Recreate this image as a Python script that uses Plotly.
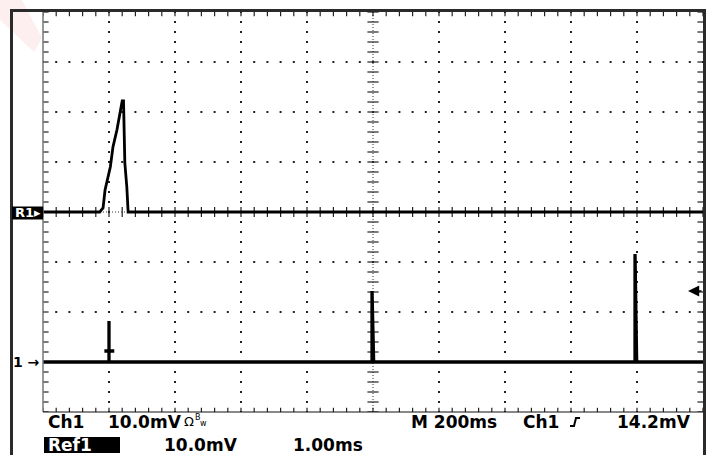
import plotly.graph_objects as go

# ---------------- data ----------------
# Channel 1: 200 ms/div, 10 mV/div, ground marker at -3 div
ch1_t_ms = [0, 195, 200, 200, 200, 186, 216, 200, 200, 205,
            992, 997, 997, 1002, 1789, 1794, 1794, 1799, 2000]
ch1_mv = [0, 0, 0, 8.2, 2.2, 2.2, 2.2, 2.2, 0, 0,
          0, 0, 14.2, 0, 0, 0, 21.6, 0, 0]
ch1_ms_per_div = 200.0
ch1_mv_per_div = 10.0
ch1_offset_div = -3.0
trigger_mv = 14.2

# Reference waveform R1: 1.00 ms/div, 10 mV/div, offset 0 div
r1_t_ms = [0, 0.86, 0.91, 0.94, 1.02, 1.06, 1.12, 1.17, 1.20, 1.22,
           1.23, 1.24, 1.27, 1.29, 10.0]
r1_mv = [0, 0, 0.8, 4.4, 9.0, 13.0, 16.4, 19.8, 22.2, 22.2,
         15.8, 9.8, 5.0, 0, 0]
r1_ms_per_div = 1.0
r1_mv_per_div = 10.0
r1_offset_div = 0.0

status_row1 = ["Ch1", "10.0mV", "M 200ms", "Ch1", "14.2mV"]
status_row2 = ["Ref1", "10.0mV", "1.00ms"]

# --------------- figure ---------------
W, H = 709, 455
L, R, T, B = 43, 6, 12, 43
PW, PH = W - L - R, H - T - B


def px(x):
    return (x - L) / PW


def py(y):
    return (H - B - y) / PH


fig = go.Figure()

# dotted graticule
gx, gy = [], []
for k in [1, 2, 3, 4, 6, 7, 8, 9]:
    for j in range(41):
        gx.append(k); gy.append(-4 + 0.2 * j)
for m in [-3, -2, -1, 1, 2, 3]:
    for j in range(51):
        gx.append(0.2 * j); gy.append(m)
fig.add_trace(go.Scatter(x=gx, y=gy, mode="markers",
                         marker=dict(symbol="square", size=2, color="#222", line=dict(width=0)),
                         hoverinfo="skip", showlegend=False))

# center cross: fine dotted lines
fig.add_trace(go.Scatter(x=[5, 5], y=[-4, 4], mode="lines",
                         line=dict(color="#333", width=1, dash="1px,2px"),
                         hoverinfo="skip", showlegend=False))
fig.add_trace(go.Scatter(x=[0, 10], y=[0, 0], mode="lines",
                         line=dict(color="#333", width=1, dash="1px,2px"),
                         hoverinfo="skip", showlegend=False))
# center ticks
fig.add_trace(go.Scatter(x=[5] * 41, y=[-4 + 0.2 * j for j in range(41)], mode="markers",
                         marker=dict(symbol="line-ew", size=8, line=dict(color="#222", width=1.2)),
                         hoverinfo="skip", showlegend=False))
fig.add_trace(go.Scatter(x=[0.2 * j for j in range(51)], y=[0] * 51, mode="markers",
                         marker=dict(symbol="line-ns", size=7, line=dict(color="#222", width=1.2)),
                         hoverinfo="skip", showlegend=False))
# edge ticks
ey = [-4 + 0.2 * j for j in range(41)]
ex = [0.2 * j for j in range(51)]
fig.add_trace(go.Scatter(x=[0] * 41 + [10] * 41, y=ey + ey, mode="markers",
                         marker=dict(symbol="line-ew", size=8, line=dict(color="#222", width=1.2)),
                         hoverinfo="skip", showlegend=False))
fig.add_trace(go.Scatter(x=ex + ex, y=[4] * 51 + [-4] * 51, mode="markers",
                         marker=dict(symbol="line-ns", size=6, line=dict(color="#222", width=1.2)),
                         hoverinfo="skip", showlegend=False))

# waveforms
fig.add_trace(go.Scatter(x=[t / r1_ms_per_div for t in r1_t_ms],
                         y=[v / r1_mv_per_div + r1_offset_div for v in r1_mv],
                         mode="lines", line=dict(color="#000", width=2.8),
                         name="R1", showlegend=False))
fig.add_trace(go.Scatter(x=[t / ch1_ms_per_div for t in ch1_t_ms],
                         y=[v / ch1_mv_per_div + ch1_offset_div for v in ch1_mv],
                         mode="lines", line=dict(color="#000", width=3.3),
                         name="Ch1", showlegend=False))

shapes = []
# faint pink watermark in corner
shapes.append(dict(type="path", xref="paper", yref="paper",
                   path=f"M {px(0)} {py(0)} L {px(22)} {py(0)} L {px(42)} {py(38)} L {px(34)} {py(52)} L {px(0)} {py(20)} Z",
                   fillcolor="rgba(235,120,120,0.12)", line=dict(width=0), layer="below"))
# outer frame
shapes.append(dict(type="line", xref="paper", yref="paper", x0=px(11.5), x1=px(11.5), y0=py(9.5), y1=py(460),
                   line=dict(color="#2a2a2a", width=3)))
shapes.append(dict(type="line", xref="paper", yref="paper", x0=px(10), x1=px(706), y0=py(10.5), y1=py(10.5),
                   line=dict(color="#2a2a2a", width=3)))
shapes.append(dict(type="line", xref="paper", yref="paper", x0=px(704.5), x1=px(704.5), y0=py(9.5), y1=py(460),
                   line=dict(color="#2a2a2a", width=3)))
# inner graticule edges
shapes.append(dict(type="line", xref="paper", yref="paper", x0=0, x1=0, y0=0, y1=1,
                   line=dict(color="#777", width=1.5)))
shapes.append(dict(type="line", xref="paper", yref="paper", x0=0, x1=1, y0=0, y1=0,
                   line=dict(color="#111", width=1)))
# R1 marker box
shapes.append(dict(type="rect", xref="paper", yref="paper", x0=px(12), x1=px(43), y0=py(219.5), y1=py(206.5),
                   fillcolor="#000", line=dict(width=0)))
# Ref1 box
shapes.append(dict(type="rect", xref="paper", yref="paper", x0=px(44), x1=px(120), y0=py(453), y1=py(437),
                   fillcolor="#000", line=dict(width=0)))
# trigger slope symbol
shapes.append(dict(type="path", xref="paper", yref="paper",
                   path=f"M {px(570)} {py(426)} L {px(574)} {py(426)} L {px(576)} {py(418)} L {px(580)} {py(418)}",
                   line=dict(color="#000", width=2)))

FONT = "DejaVu Sans"
ann = []


def txt(s, x, y, size=17, color="#000", anchor="left", bold=True):
    ann.append(dict(text=s, xref="paper", yref="paper", x=px(x), y=py(y), xanchor=anchor, yanchor="middle",
                    showarrow=False, font=dict(family=FONT, size=size, color=color,
                                               weight="bold" if bold else "normal")))


row1_x = [46, 106, 409, 521, 693]
for s, x in zip(status_row1, row1_x):
    txt(s, x, 422, anchor="right" if s == status_row1[-1] else "left")
txt("Ω", 182, 421, size=13, bold=False)
txt("B", 193, 418, size=8, bold=False)
txt("w", 198, 423, size=8, bold=False)

txt(status_row2[0], 46, 445, color="#fff")
txt(status_row2[1], 162, 445)
txt(status_row2[2], 291, 445)

txt("R1▸", 13, 213, size=13, color="#fff")
txt("1 →", 42, 362, size=14, anchor="right")

# trigger level arrow (right side)
ann.append(dict(text="", xref="paper", yref="y", x=px(688),
                y=trigger_mv / ch1_mv_per_div + ch1_offset_div,
                showarrow=True, ax=15, ay=0, arrowhead=2, arrowsize=1.4, arrowwidth=1.6,
                arrowcolor="#000", standoff=0))

fig.update_layout(
    width=W, height=H, margin=dict(l=L, r=R, t=T, b=B, pad=0),
    paper_bgcolor="#fff", plot_bgcolor="#fff",
    xaxis=dict(range=[0, 10], visible=False, fixedrange=True),
    yaxis=dict(range=[-4, 4], visible=False, fixedrange=True),
    shapes=shapes, annotations=ann, showlegend=False,
)

fig.write_html("out.html")
